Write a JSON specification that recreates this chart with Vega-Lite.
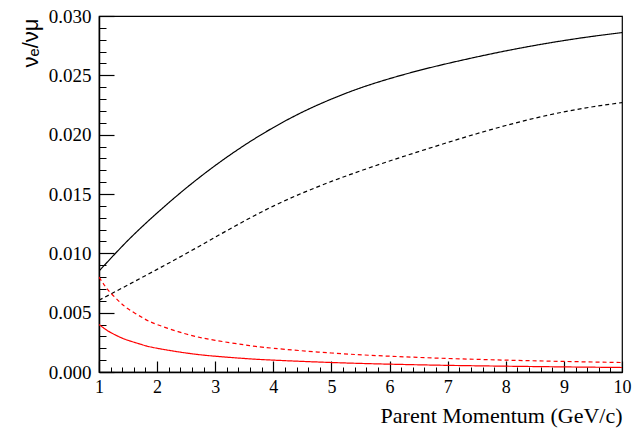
{
  "$schema": "https://vega.github.io/schema/vega-lite/v6.json",
  "width": 523,
  "height": 356,
  "autosize": {"type": "none"},
  "padding": {"left": 99, "top": 16, "right": 19, "bottom": 56},
  "background": "white",
  "config": {
    "font": "serif",
    "view": {"stroke": "black", "strokeWidth": 1.2},
    "axis": {"grid": false, "domainColor": "black", "tickColor": "black", "labelColor": "black", "titleColor": "black", "labelFont": "serif", "titleFont": "serif"}
  },
  "datasets": {
    "curves": [
      {"p": 1.0, "v": 0.0085, "s": "A"}, {"p": 1.5, "v": 0.0111, "s": "A"}, {"p": 2.0, "v": 0.0134, "s": "A"}, {"p": 2.5, "v": 0.0155, "s": "A"}, {"p": 3.0, "v": 0.0174, "s": "A"}, {"p": 3.5, "v": 0.0191, "s": "A"}, {"p": 4.0, "v": 0.0206, "s": "A"}, {"p": 4.5, "v": 0.0219, "s": "A"}, {"p": 5.0, "v": 0.0230, "s": "A"}, {"p": 5.5, "v": 0.02394, "s": "A"}, {"p": 6.0, "v": 0.02472, "s": "A"}, {"p": 6.5, "v": 0.0254, "s": "A"}, {"p": 7.0, "v": 0.026, "s": "A"}, {"p": 7.5, "v": 0.02655, "s": "A"}, {"p": 8.0, "v": 0.02706, "s": "A"}, {"p": 8.5, "v": 0.02752, "s": "A"}, {"p": 9.0, "v": 0.02793, "s": "A"}, {"p": 9.5, "v": 0.02829, "s": "A"}, {"p": 10.0, "v": 0.0286, "s": "A"},
      {"p": 1.0, "v": 0.00605, "s": "B"}, {"p": 1.5, "v": 0.00734, "s": "B"}, {"p": 2.0, "v": 0.00865, "s": "B"}, {"p": 2.5, "v": 0.00998, "s": "B"}, {"p": 3.0, "v": 0.01136, "s": "B"}, {"p": 3.5, "v": 0.01272, "s": "B"}, {"p": 4.0, "v": 0.01398, "s": "B"}, {"p": 4.5, "v": 0.01508, "s": "B"}, {"p": 5.0, "v": 0.01606, "s": "B"}, {"p": 5.5, "v": 0.01695, "s": "B"}, {"p": 6.0, "v": 0.01778, "s": "B"}, {"p": 6.5, "v": 0.01857, "s": "B"}, {"p": 7.0, "v": 0.01934, "s": "B"}, {"p": 7.5, "v": 0.02008, "s": "B"}, {"p": 8.0, "v": 0.02077, "s": "B"}, {"p": 8.5, "v": 0.02139, "s": "B"}, {"p": 9.0, "v": 0.02192, "s": "B"}, {"p": 9.5, "v": 0.02235, "s": "B"}, {"p": 10.0, "v": 0.0227, "s": "B"},
      {"p": 1.0, "v": 0.0040, "s": "C"}, {"p": 1.1, "v": 0.00364, "s": "C"}, {"p": 1.2, "v": 0.00333, "s": "C"}, {"p": 1.35, "v": 0.00296, "s": "C"}, {"p": 1.5, "v": 0.00267, "s": "C"}, {"p": 1.75, "v": 0.00229, "s": "C"}, {"p": 2.0, "v": 0.0020, "s": "C"}, {"p": 2.5, "v": 0.0016, "s": "C"}, {"p": 3.0, "v": 0.00133, "s": "C"}, {"p": 3.5, "v": 0.00114, "s": "C"}, {"p": 4.0, "v": 0.0010, "s": "C"}, {"p": 5.0, "v": 0.0008, "s": "C"}, {"p": 6.0, "v": 0.00066, "s": "C"}, {"p": 7.0, "v": 0.00056, "s": "C"}, {"p": 8.0, "v": 0.00049, "s": "C"}, {"p": 9.0, "v": 0.00043, "s": "C"}, {"p": 10.0, "v": 0.00038, "s": "C"},
      {"p": 1.0, "v": 0.0080, "s": "D"}, {"p": 1.1, "v": 0.00727, "s": "D"}, {"p": 1.2, "v": 0.00667, "s": "D"}, {"p": 1.35, "v": 0.00593, "s": "D"}, {"p": 1.5, "v": 0.00533, "s": "D"}, {"p": 1.75, "v": 0.00457, "s": "D"}, {"p": 2.0, "v": 0.0040, "s": "D"}, {"p": 2.5, "v": 0.0032, "s": "D"}, {"p": 3.0, "v": 0.00267, "s": "D"}, {"p": 3.5, "v": 0.00229, "s": "D"}, {"p": 4.0, "v": 0.0020, "s": "D"}, {"p": 5.0, "v": 0.0016, "s": "D"}, {"p": 6.0, "v": 0.00133, "s": "D"}, {"p": 7.0, "v": 0.00114, "s": "D"}, {"p": 8.0, "v": 0.0010, "s": "D"}, {"p": 9.0, "v": 0.00089, "s": "D"}, {"p": 10.0, "v": 0.0008, "s": "D"}
    ]
  },
  "data": {"name": "curves"},
  "resolve": {"axis": {"x": "independent", "y": "independent"}},
  "layer": [
    {
      "mark": {"type": "line", "strokeWidth": 1.2, "interpolate": "natural", "clip": true},
      "encoding": {
        "x": {"field": "p", "type": "quantitative", "scale": {"domain": [1, 10], "nice": false, "zero": false},
          "axis": {"orient": "bottom", "values": [1,2,3,4,5,6,7,8,9,10], "format": "d", "ticks": false, "domain": true, "domainWidth": 1.5, "labelFont": "serif", "labelFontSize": 18, "labelPadding": 6, "labelFlush": false,
            "title": "Parent Momentum (GeV/c)", "titleFont": "serif", "titleFontSize": 22, "titleFontWeight": "normal", "titleAnchor": "end", "titleAlign": "right", "titleBaseline": "alphabetic", "titleX": 523, "titleY": 50}},
        "y": {"field": "v", "type": "quantitative", "scale": {"domain": [0, 0.03], "nice": false},
          "axis": {"orient": "left", "values": [0, 0.005, 0.01, 0.015, 0.02, 0.025, 0.03], "format": ".3f", "ticks": false, "domain": true, "domainWidth": 1.5, "labelFont": "serif", "labelFontSize": 19, "labelPadding": 8, "labelFlush": false,
            "title": "νₑ/νμ", "titleFont": "sans-serif", "titleFontSize": 22, "titleFontWeight": "normal", "titleAngle": -90, "titleAnchor": "end", "titleAlign": "right", "titleBaseline": "alphabetic", "titleX": -62, "titleY": 2}},
        "color": {"field": "s", "type": "nominal", "scale": {"domain": ["A","B","C","D"], "range": ["#000000","#000000","#ff0000","#ff0000"]}, "legend": null},
        "strokeDash": {"field": "s", "type": "nominal", "scale": {"domain": ["A","B","C","D"], "range": [[1,0],[4,3],[1,0],[4,3]]}, "legend": null}
      }
    },
    {
      "mark": {"type": "point", "opacity": 0},
      "encoding": {
        "x": {"field": "p", "type": "quantitative", "axis": {"orient": "bottom", "values": [1,2,3,4,5,6,7,8,9,10], "ticks": true, "tickSize": -11, "tickWidth": 1.2, "labels": false, "domain": false, "title": null}},
        "y": {"field": "v", "type": "quantitative", "axis": {"orient": "left", "values": [0, 0.005, 0.01, 0.015, 0.02, 0.025, 0.03], "ticks": true, "tickSize": -15, "tickWidth": 1.2, "labels": false, "domain": false, "title": null}}
      }
    },
    {
      "mark": {"type": "point", "opacity": 0},
      "encoding": {
        "x": {"field": "p", "type": "quantitative", "axis": {"orient": "bottom", "values": [1.2,1.4,1.6,1.8,2.2,2.4,2.6,2.8,3.2,3.4,3.6,3.8,4.2,4.4,4.6,4.8,5.2,5.4,5.6,5.8,6.2,6.4,6.6,6.8,7.2,7.4,7.6,7.8,8.2,8.4,8.6,8.8,9.2,9.4,9.6,9.8], "ticks": true, "tickSize": -5, "tickWidth": 1, "labels": false, "domain": false, "title": null}},
        "y": {"field": "v", "type": "quantitative", "axis": {"orient": "left", "values": [0.001,0.002,0.003,0.004,0.006,0.007,0.008,0.009,0.011,0.012,0.013,0.014,0.016,0.017,0.018,0.019,0.021,0.022,0.023,0.024,0.026,0.027,0.028,0.029], "ticks": true, "tickSize": -7, "tickWidth": 1, "labels": false, "domain": false, "title": null}}
      }
    }
  ]
}
